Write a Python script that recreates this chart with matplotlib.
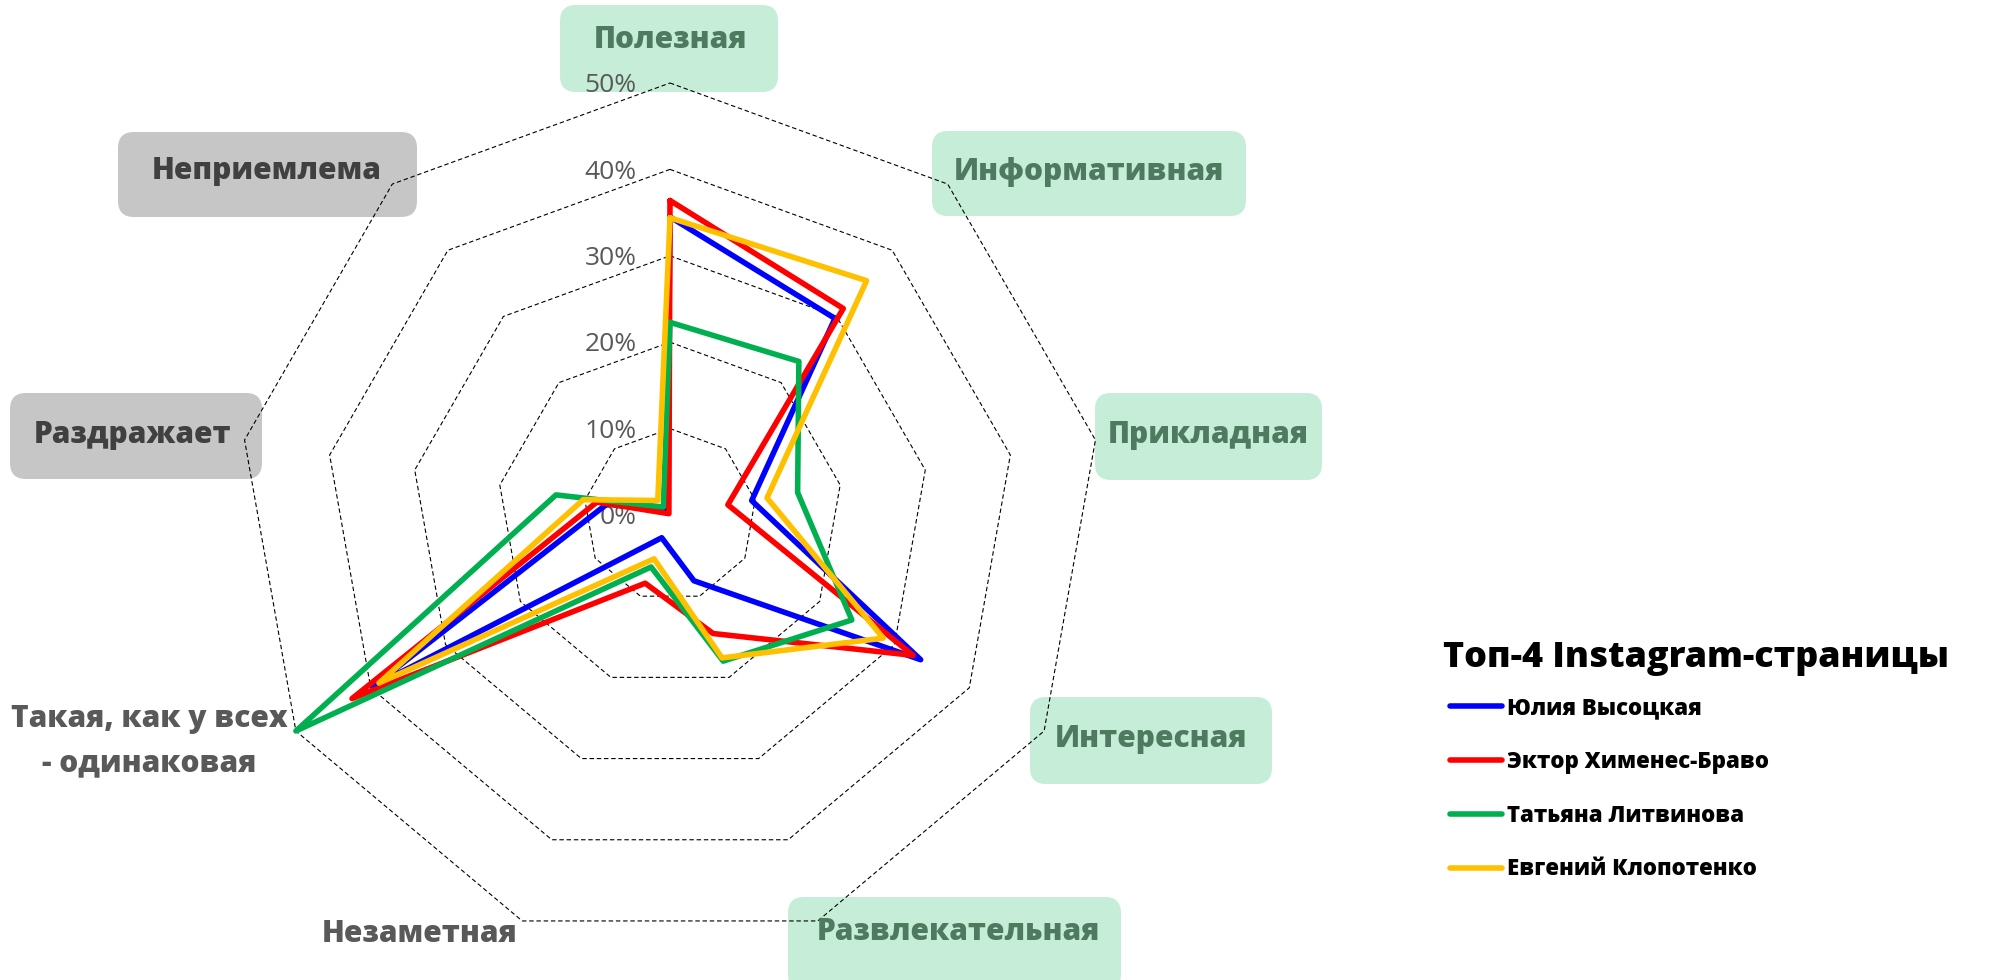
import numpy as np
import matplotlib
matplotlib.use('Agg')
import matplotlib.pyplot as plt
from matplotlib.patches import FancyBboxPatch
from matplotlib.transforms import IdentityTransform

plt.rcParams['font.family'] = ['Open Sans', 'DejaVu Sans']

# данные (доли, %)
categories = ['Полезная', 'Информативная', 'Прикладная', 'Интересная',
              'Развлекательная', 'Незаметная', 'Такая, как у всех\n- одинаковая',
              'Раздражает', 'Неприемлема']
names = ['Юлия Высоцкая', 'Эктор Хименес-Браво', 'Татьяна Литвинова', 'Евгений Клопотенко']
vysotskaya = [34.5, 29.7, 9.6, 33.5, 8.1, 2.8, 39.8, 7.4, 0.5]
hector = [36.4, 31.2, 6.8, 32.5, 14.6, 8.4, 42.5, 8.6, 0.2]
litvinova = [22.3, 23.2, 15.0, 24.3, 18.0, 6.4, 50.0, 13.4, 1.2]
klopotenko = [34.4, 35.4, 11.4, 28.5, 17.6, 5.4, 38.9, 10.2, 2.2]
rings = [10, 20, 30, 40, 50]
tick_labels = ['0%', '10%', '20%', '30%', '40%', '50%']
legend_title = 'Топ-4 Instagram-страницы'

colors = ['#0000FF', '#FF0000', '#00B050', '#FFC000']

W, H = 1993, 980
fig = plt.figure(figsize=(W / 100, H / 100), dpi=100)

# центр диаграммы (670, 515) px, радиус 432 px
cx, cy, R = 670, 515, 432
ax = fig.add_axes([(cx - R) / W, (H - cy - R) / H, 2 * R / W, 2 * R / H], projection='polar')
ax.set_theta_zero_location('N')
ax.set_theta_direction(-1)
ax.set_ylim(0, 50)
ax.grid(False)
ax.set_xticks([])
ax.set_yticks([])
ax.spines['polar'].set_visible(False)
ax.patch.set_alpha(0)

n = len(categories)
theta = np.arange(n + 1) * 2 * np.pi / n

# сетка - пунктирные девятиугольники
for r in rings:
    ax.plot(theta, [r] * (n + 1), color='black', lw=0.8, ls=(0, (4, 2.5)),
            zorder=1, clip_on=False)

# подписи шкалы
for i, lab in enumerate(tick_labels):
    ax.annotate(lab, xy=(0, i * 10), xytext=(-24, -2), textcoords='offset points',
                ha='right', va='center', fontsize=19, color='#595959', zorder=2,
                annotation_clip=False)

series = [vysotskaya, hector, litvinova, klopotenko]
lines = []
for vals, c, nm in zip(series, colors, names):
    v = vals + vals[:1]
    ln, = ax.plot(theta, v, color=c, lw=4, solid_joinstyle='round',
                  solid_capstyle='round', label=nm, zorder=3, clip_on=False)
    lines.append(ln)


def fx(x):
    return x / W


def fy(y):
    return 1 - y / H


# подписи категорий (положение как в исходнике)
green_fill, green_txt = '#C6EDD8', '#4E7A5F'
gray_fill, gray_txt = '#C6C6C6', '#404040'
plain_txt = '#595959'
label_style = [
    # (центр текста, рамка (x0, y0, x1, y1) или None, заливка, цвет текста)
    ((670, 40), (560, 5, 778, 92), green_fill, green_txt),
    ((1089, 172), (932, 131, 1246, 216), green_fill, green_txt),
    ((1208, 435), (1095, 393, 1322, 480), green_fill, green_txt),
    ((1151, 739), (1030, 697, 1272, 784), green_fill, green_txt),
    ((958, 932), (788, 897, 1121, 990), green_fill, green_txt),
    ((420, 934), None, None, plain_txt),
    ((149, 741), None, None, plain_txt),
    ((133, 435), (10, 393, 262, 479), gray_fill, gray_txt),
    ((267, 171), (118, 132, 417, 217), gray_fill, gray_txt),
]
for cat, (pos, box, fill, tc) in zip(categories, label_style):
    if box is not None:
        x0, y0, x1, y1 = box
        fig.patches.append(FancyBboxPatch((x0, H - y1), x1 - x0, y1 - y0,
                                          boxstyle='round,pad=0,rounding_size=16',
                                          transform=IdentityTransform(),
                                          facecolor=fill, edgecolor='none', zorder=-1))
    fig.text(fx(pos[0]), fy(pos[1]), cat, ha='center', va='center', fontsize=21.5,
             fontweight=800, color=tc, linespacing=1.62, zorder=5)

# легенда
fig.text(fx(1443), fy(658), legend_title, ha='left', va='center', fontsize=25.8,
         fontweight=800, color='black')
leg = fig.legend(handles=lines, labels=names, loc='upper left',
                 bbox_to_anchor=(fx(1450), fy(696)), frameon=False,
                 prop={'weight': 800, 'size': 16},
                 handlelength=2.35, handletextpad=0.2, labelspacing=1.34,
                 borderpad=0, borderaxespad=0)
for t in leg.get_texts():
    t.set_color('black')

fig.savefig('out.png', dpi=100)
